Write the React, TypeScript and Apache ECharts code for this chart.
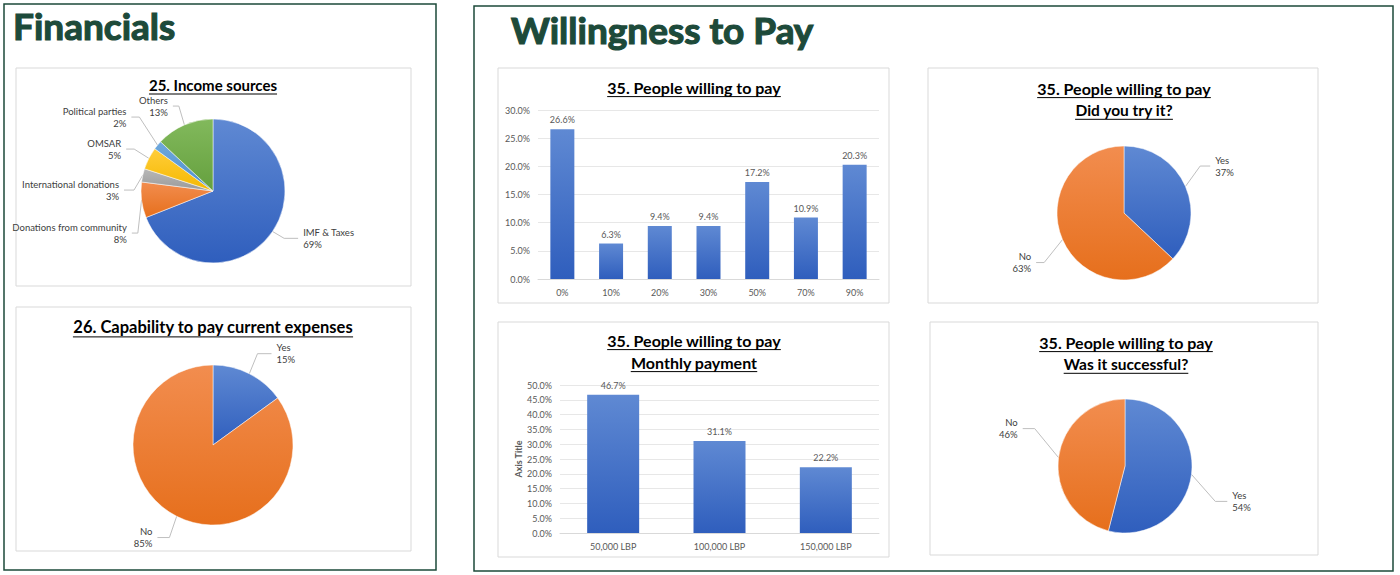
import React, { useEffect, useRef } from 'react';
import * as echarts from 'echarts';

// chart data
const incomeNames = ['IMF & Taxes', 'Donations from community', 'International donations', 'OMSAR', 'Political parties', 'Others'];
const incomeValues = [69, 8, 3, 5, 2, 13];
const capabilityNames = ['Yes', 'No'];
const capabilityValues = [15, 85];
const willingCategories = ['0%', '10%', '20%', '30%', '50%', '70%', '90%'];
const willingValues = [26.6, 6.3, 9.4, 9.4, 17.2, 10.9, 20.3];
const paymentCategories = ['50,000 LBP', '100,000 LBP', '150,000 LBP'];
const paymentValues = [46.7, 31.1, 22.2];
const triedNames = ['Yes', 'No'];
const triedValues = [37, 63];
const successNames = ['Yes', 'No'];
const successValues = [54, 46];

const FONT = 'Lato, "Open Sans", sans-serif';
const GREEN = '#1d4a3a';

const grad = (top: string, bottom: string) =>
  new echarts.graphic.LinearGradient(0, 0, 0, 1, [
    { offset: 0, color: top },
    { offset: 1, color: bottom }
  ]);

const BLUE = () => grad('#5f89d3', '#2f5ebd');
const ORANGE = () => grad('#f28d4f', '#e66f1c');
const incomeColors = [
  BLUE(),
  ORANGE(),
  grad('#b8b8b8', '#999999'),
  grad('#ffcd3a', '#f5b800'),
  grad('#6fa8dc', '#4c8ecf'),
  grad('#82b95c', '#65a03e')
];
// leader line lengths per slice [length, length2] and vertical label nudges
const incomeLines = [[14, 14], [12, 6], [12, 10], [16, 8], [26, 8], [14, 6]];
const incomeNudge = [-1, 17, 0, -15, -21, -6];

const measure = (text: string, font: string) => {
  const ctx = document.createElement('canvas').getContext('2d');
  if (!ctx) return text.length * 7;
  ctx.font = font;
  return ctx.measureText(text).width;
};

const heading = (text: string, cx: number, cy: number, size: number) => {
  const w = measure(text, `bold ${size}px Lato`);
  const uy = cy + size * 0.6;
  return [
    {
      type: 'text',
      x: cx,
      y: cy,
      z: 10,
      style: {
        text,
        fontSize: size,
        fontWeight: 'bold',
        fontFamily: FONT,
        fill: '#000',
        align: 'center',
        verticalAlign: 'middle',
        textAlign: 'center',
        textVerticalAlign: 'middle'
      }
    },
    {
      type: 'line',
      z: 10,
      shape: { x1: cx - w / 2, y1: uy, x2: cx + w / 2, y2: uy },
      style: { stroke: '#000', lineWidth: 1 }
    }
  ];
};

const bigTitle = (text: string, x: number, y: number) => ({
  type: 'text',
  x,
  y,
  style: {
    text,
    fontSize: 37,
    fontWeight: 'bold',
    fontFamily: FONT,
    fill: GREEN,
    stroke: GREEN,
    lineWidth: 1.2,
    verticalAlign: 'middle',
    textVerticalAlign: 'middle'
  }
});

const box = (x: number, y: number, width: number, height: number, stroke = '#d9d9d9', lineWidth = 1) => ({
  type: 'rect',
  z: -1,
  shape: { x, y, width, height },
  style: { fill: '#fff', stroke, lineWidth }
});

const pieLabel = {
  show: true,
  position: 'outside',
  fontSize: 9.5,
  lineHeight: 12,
  color: '#404040',
  fontFamily: FONT,
  overflow: 'none',
  formatter: (p: any) => `${p.name}\n${p.value}%`
};

const pieSeries = (
  names: string[],
  values: number[],
  colors: any[],
  center: number[],
  radius: number,
  lines: number[][],
  nudge: number[]
) => ({
  type: 'pie',
  center,
  radius,
  startAngle: 90,
  clockwise: true,
  avoidLabelOverlap: true,
  label: pieLabel,
  labelLine: { show: true, length: 10, length2: 10, lineStyle: { color: '#bfbfbf', width: 1 } },
  labelLayout: (params: any) => {
    const dy = nudge[params.dataIndex] || 0;
    const pts = params.labelLinePoints;
    if (!pts || pts.length < 3) return { dy };
    return {
      dy,
      labelLinePoints: [
        [pts[0][0], pts[0][1]],
        [pts[1][0], pts[1][1] + dy],
        [pts[2][0], pts[2][1] + dy]
      ]
    };
  },
  itemStyle: { borderColor: '#fff', borderWidth: 0.5 },
  data: names.map((name, i) => ({
    name,
    value: values[i],
    itemStyle: { color: colors[i] },
    labelLine: { length: lines[i][0], length2: lines[i][1] }
  }))
});

const axisLabelStyle = { fontSize: 9, color: '#595959', fontFamily: FONT };

const App: React.FC = () => {
  const chartRef = useRef<HTMLDivElement>(null);

  useEffect(() => {
    if (!chartRef.current) return;
    const chart = echarts.init(chartRef.current, null, { renderer: 'svg' });

    const option = {
      animation: false,
      backgroundColor: '#fff',
      graphic: [
        box(4, 4, 432, 566, GREEN, 1.5),
        box(474, 6, 919, 565, GREEN, 1.5),
        box(16, 68, 395, 218),
        box(16, 307, 395, 244),
        box(498, 68, 391, 235),
        box(498, 322, 391, 235),
        box(928, 68, 390, 235),
        box(930, 322, 388, 233),
        bigTitle('Financials', 13, 25),
        bigTitle('Willingness to Pay', 511, 29),
        ...heading('25. Income sources', 213, 85, 15),
        ...heading('26. Capability to pay current expenses', 213, 327, 16.5),
        ...heading('35. People willing to pay', 694, 87, 16),
        ...heading('35. People willing to pay', 694, 340, 16),
        ...heading('Monthly payment', 694, 362, 16),
        ...heading('35. People willing to pay', 1124, 88, 16),
        ...heading('Did you try it?', 1124, 110, 15.5),
        ...heading('35. People willing to pay', 1126, 342, 16),
        ...heading('Was it successful?', 1126, 364, 15.5)
      ],
      grid: [
        { left: 538, right: 521, top: 110, bottom: 296, containLabel: false },
        { left: 560, right: 521, top: 385, bottom: 42, containLabel: false }
      ],
      xAxis: [
        {
          type: 'category',
          gridIndex: 0,
          data: willingCategories,
          axisLine: { lineStyle: { color: '#d9d9d9' } },
          axisTick: { show: false },
          axisLabel: { ...axisLabelStyle, margin: 9 }
        },
        {
          type: 'category',
          gridIndex: 1,
          data: paymentCategories,
          axisLine: { lineStyle: { color: '#d9d9d9' } },
          axisTick: { show: false },
          axisLabel: { ...axisLabelStyle, margin: 9 }
        }
      ],
      yAxis: [
        {
          type: 'value',
          gridIndex: 0,
          min: 0,
          max: 30,
          interval: 5,
          axisLine: { show: false },
          axisTick: { show: false },
          splitLine: { lineStyle: { color: '#e7e7e7' } },
          axisLabel: { ...axisLabelStyle, formatter: (v: number) => `${v.toFixed(1)}%` }
        },
        {
          type: 'value',
          gridIndex: 1,
          min: 0,
          max: 50,
          interval: 5,
          name: 'Axis Title',
          nameLocation: 'middle',
          nameGap: 36,
          nameTextStyle: { fontSize: 9, color: '#595959', fontWeight: 'bold', fontFamily: FONT },
          axisLine: { show: false },
          axisTick: { show: false },
          splitLine: { lineStyle: { color: '#e7e7e7' } },
          axisLabel: { ...axisLabelStyle, formatter: (v: number) => `${v.toFixed(1)}%` }
        }
      ],
      series: [
        {
          type: 'bar',
          xAxisIndex: 0,
          yAxisIndex: 0,
          barWidth: 24,
          data: willingValues,
          itemStyle: { color: BLUE() },
          label: {
            show: true,
            position: 'top',
            ...axisLabelStyle,
            formatter: (p: any) => `${Number(p.value).toFixed(1)}%`
          }
        },
        {
          type: 'bar',
          xAxisIndex: 1,
          yAxisIndex: 1,
          barWidth: 52,
          data: paymentValues,
          itemStyle: { color: BLUE() },
          label: {
            show: true,
            position: 'top',
            ...axisLabelStyle,
            formatter: (p: any) => `${Number(p.value).toFixed(1)}%`
          }
        },
        pieSeries(incomeNames, incomeValues, incomeColors, [213, 191], 72, incomeLines, incomeNudge),
        pieSeries(capabilityNames, capabilityValues, [BLUE(), ORANGE()], [213, 445], 80, [[18, 14], [16, 12]], [-4, 7]),
        pieSeries(triedNames, triedValues, [BLUE(), ORANGE()], [1124, 213], 67, [[16, 10], [20, 8]], [-14, 15]),
        pieSeries(successNames, successValues, [BLUE(), ORANGE()], [1125, 466], 67, [[24, 12], [24, 12]], [24, -26])
      ]
    };

    chart.setOption(option as any);

    return () => {
      chart.dispose();
    };
  }, []);

  return (
    <div
      ref={chartRef}
      style={{ position: 'fixed', left: 0, top: 0, width: 1400, height: 575, background: '#fff' }}
    />
  );
};

export default App;
